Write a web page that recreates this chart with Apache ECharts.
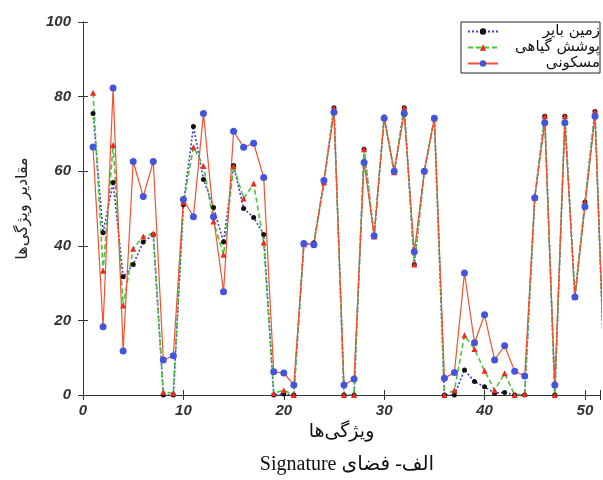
<!DOCTYPE html>
<html><head><meta charset="utf-8">
<script src="https://cdn.jsdelivr.net/npm/echarts@6/dist/echarts.min.js"></script>
<style>html,body{margin:0;padding:0;background:#fff}#c{width:603px;height:480px}</style>
</head><body><div id="c"></div>
<script>
// feature index (x)
const features = [1,2,3,4,5,6,7,8,9,10,11,12,13,14,15,16,17,18,19,20,21,22,23,24,25,26,
  27,28,29,30,31,32,33,34,35,36,37,38,39,40,41,42,43,44,45,46,47,48,49,50,51,52];
// مسکونی (residential)
const residential = [66.5,18.3,82.3,11.8,62.6,53.2,62.6,9.4,10.5,52.4,47.8,75.5,47.8,27.7,70.7,66.4,67.5,58.3,6.2,5.9,2.7,
  40.6,40.3,57.5,75.8,2.7,4.3,62.3,42.7,74.2,60,75.5,38.4,60,74.2,4.5,6,32.7,14,21.5,9.4,13.2,6.4,5.1,
  52.9,73,2.7,73,26.3,50.5,74.7,2];
// پوشش گیاهی (vegetation)
const vegetation = [81,33.3,67,24,39.2,42.5,43.3,0.8,0.5,51.6,66.4,61.4,46.5,37.6,61.3,52.7,56.7,40.9,0.5,1.3,0,
  40.4,40.8,57,77,0,0,65.9,42.5,74.5,59.7,77,35,60,74.2,0,1.3,16,12.3,6.5,1.3,5.8,0,0.3,
  52.9,74.7,0,74.7,26.3,51.7,76,0];
// زمین بایر (barren land)
const barren = [75.5,43.5,57,31.7,35,41,43,0,0,51,72,57.8,50.3,41,61.5,50,47.6,43,0,0.3,0,
  40.4,40.8,57,77,0,0,65.9,42.5,74.5,59.7,77,35,60,74.2,0,0,6.7,3.6,2.2,0.5,0.7,0,0,
  52.9,74.7,0,74.7,26.3,51.7,76,0];
const seriesNames = ['زمین بایر','پوشش گیاهی','مسکونی'];
const xTickLabels = [0,10,20,30,40,50];
const yTickLabels = [0,20,40,60,80,100];

const chart = echarts.init(document.getElementById('c'), null, {renderer:'canvas'});
const toPts = arr => features.map((f,i)=>[f, arr[i]]);
const tickFont = {fontFamily:'Liberation Sans', fontWeight:'bold', fontStyle:'italic', fontSize:15, color:'#333'};
const axisLine = {show:true, lineStyle:{color:'#333', width:1}};

chart.setOption({
  animation:false,
  backgroundColor:'#fff',
  title:{
    text:'\u202Bالف- فضای Signature\u202C',
    left:342, textAlign:'center', top:450,
    textStyle:{fontFamily:'Liberation Serif, DejaVu Sans', fontWeight:'normal', fontSize:20, color:'#111'}
  },
  grid:{left:83, right:2, top:22, bottom:85},
  legend:{
    left:461, top:22, orient:'vertical',
    backgroundColor:'#fff', borderColor:'#222', borderWidth:1,
    padding:[2,0,2,6], itemGap:1, itemWidth:30, itemHeight:8,
    data:seriesNames,
    formatter: n => '{t|' + n + '}',
    textStyle:{rich:{t:{width:97, align:'right', fontSize:15, lineHeight:13, fontFamily:'DejaVu Sans', color:'#111'}}}
  },
  xAxis:[{
    type:'value', min:0, max:51.5, interval:10,
    name:'ویژگی\u200cها', nameLocation:'middle', nameGap:28,
    nameTextStyle:{fontFamily:'DejaVu Sans', fontSize:19, color:'#111'},
    axisLine:axisLine, splitLine:{show:false},
    axisTick:{inside:true, length:5, lineStyle:{color:'#333'}},
    axisLabel:{...tickFont, margin:8, formatter: v => xTickLabels.includes(v) ? String(v) : ''}
  },{
    type:'value', position:'top', min:0, max:51.5, interval:10,
    axisLine:axisLine, splitLine:{show:false},
    axisTick:{inside:true, length:5, lineStyle:{color:'#333'}},
    axisLabel:{show:false}
  }],
  yAxis:[{
    type:'value', min:0, max:100, interval:20,
    name:'مقادیر ویژگی\u200cها', nameLocation:'middle', nameGap:52,
    nameTextStyle:{fontFamily:'DejaVu Sans', fontSize:16, color:'#222'},
    axisLine:axisLine, splitLine:{show:false},
    axisTick:{inside:true, length:5, lineStyle:{color:'#333'}},
    axisLabel:{...tickFont, margin:12, formatter: v => yTickLabels.includes(v) ? String(v) : ''}
  },{
    type:'value', position:'right', min:0, max:100, interval:20,
    axisLine:axisLine, splitLine:{show:false},
    axisTick:{inside:true, length:5, lineStyle:{color:'#333'}},
    axisLabel:{show:false}
  }],
  series:[{
    name:seriesNames[0], type:'line', data:toPts(barren),
    symbol:'circle', symbolSize:5,
    itemStyle:{color:'#111'},
    lineStyle:{color:'#3a3ad0', width:1.6, type:[2,2]}
  },{
    name:seriesNames[1], type:'line', data:toPts(vegetation),
    symbol:'triangle', symbolSize:6,
    itemStyle:{color:'#f02a1a'},
    lineStyle:{color:'#4cc43a', width:1.6, type:[5,3]}
  },{
    name:seriesNames[2], type:'line', data:toPts(residential),
    symbol:'circle', symbolSize:7,
    itemStyle:{color:'#4455dd'},
    lineStyle:{color:'#f2502e', width:1.2}
  }]
});
</script></body></html>
